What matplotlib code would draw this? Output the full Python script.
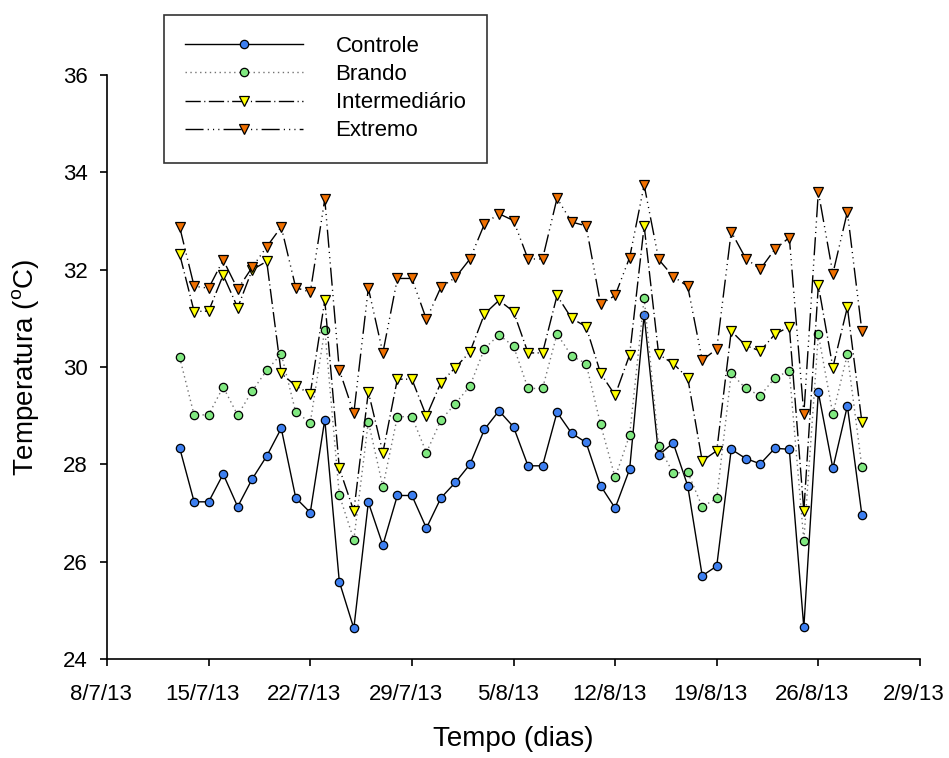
import datetime as dt

import matplotlib
matplotlib.use("Agg")
import matplotlib.pyplot as plt
import matplotlib.dates as mdates
from matplotlib.ticker import FuncFormatter, MultipleLocator
from matplotlib.transforms import ScaledTranslation
import pandas as pd

plt.rcParams["font.family"] = ["Liberation Sans", "DejaVu Sans"]
plt.rcParams["mathtext.fontset"] = "custom"
plt.rcParams["mathtext.rm"] = "Liberation Sans"

# daily readings, 13/7/13 onwards
controle = [28.34, 27.23, 27.23, 27.80, 27.13, 27.70, 28.17, 28.74, 27.31, 27.01,
            28.92, 25.59, 24.63, 27.22, 26.34, 27.36, 27.36, 26.69, 27.31, 27.63,
            28.00, 28.72, 29.10, 28.77, 27.97, 27.97, 29.07, 28.64, 28.45, 27.56,
            27.10, 27.90, 31.07, 28.19, 28.44, 27.56, 25.71, 25.91, 28.31, 28.12,
            28.01, 28.33, 28.31, 24.65, 29.48, 27.92, 29.20, 26.96]
brando = [30.20, 29.01, 29.02, 29.59, 29.01, 29.51, 29.93, 30.27, 29.07, 28.86,
          30.77, 27.37, 26.45, 28.88, 27.54, 28.98, 28.98, 28.24, 28.91, 29.25,
          29.61, 30.38, 30.66, 30.43, 29.56, 29.56, 30.68, 30.23, 30.07, 28.82,
          27.73, 28.60, 31.42, 28.38, 27.82, 27.84, 27.13, 27.30, 29.87, 29.56,
          29.41, 29.78, 29.92, 26.43, 30.67, 29.03, 30.26, 27.94]
intermediario = [32.32, 31.14, 31.15, 31.89, 31.22, 32.00, 32.17, 29.87, 29.61, 29.45,
                 31.37, 27.92, 27.04, 29.49, 28.24, 29.75, 29.75, 28.99, 29.68, 29.99,
                 30.31, 31.09, 31.37, 31.14, 30.29, 30.29, 31.47, 31.00, 30.83, 29.87,
                 29.42, 30.25, 32.90, 30.26, 30.07, 29.78, 28.07, 28.28, 30.74, 30.44,
                 30.33, 30.67, 30.83, 27.04, 31.68, 29.99, 31.23, 28.87]
extremo = [32.88, 31.66, 31.62, 32.20, 31.60, 32.05, 32.47, 32.88, 31.63, 31.54,
           33.45, 29.94, 29.05, 31.62, 30.29, 31.82, 31.82, 30.98, 31.64, 31.84,
           32.22, 32.94, 33.15, 33.01, 32.22, 32.22, 33.47, 32.98, 32.90, 31.29,
           31.47, 32.25, 33.74, 32.21, 31.86, 31.66, 30.14, 30.37, 32.78, 32.23,
           32.01, 32.42, 32.66, 29.03, 33.60, 31.92, 33.19, 30.74]

dias = pd.date_range("2013-07-13", periods=len(controle), freq="D")

fig = plt.figure(figsize=(9.49, 7.58), dpi=100)
ax = fig.add_axes([0.1128, 0.1306, 0.8566, 0.7704])

series = [
    ("Controle", controle, "-", "o", "#3d7ff0", "black"),
    ("Brando", brando, (0, (1, 2.5)), "o", "#80e880", "0.45"),
    ("Intermediário", intermediario, (0, (11, 2.5, 0.8, 2.5)), "v", "#ffff00", "black"),
    ("Extremo", extremo, (0, (13, 3, 0.8, 3, 0.8, 3, 0.8, 3)), "v", "#f07000", "black"),
]
for label, vals, ls, mk, fc, lc in series:
    ax.plot(dias, vals, linestyle=ls, color=lc, lw=1.0,
            marker=mk, markersize=6 if mk == "o" else 7,
            markerfacecolor=fc, markeredgecolor="black", markeredgewidth=0.9,
            label=label)

ax.set_xlim(dt.date(2013, 7, 8), dt.date(2013, 9, 2))
ax.set_ylim(24, 36)
ax.set_xticks([dt.date(2013, 7, 8) + dt.timedelta(days=7 * i) for i in range(9)])
ax.xaxis.set_major_formatter(FuncFormatter(
    lambda v, _: "{0.day}/{0.month}/{0:%y}".format(mdates.num2date(v))))
ax.yaxis.set_major_locator(MultipleLocator(2))

for side in ("top", "right"):
    ax.spines[side].set_visible(False)
for side in ("left", "bottom"):
    ax.spines[side].set_linewidth(1.2)
ax.tick_params(direction="out", length=5.3, width=1.2, labelsize=16)
ax.tick_params(axis="x", pad=13)
ax.tick_params(axis="y", pad=8.5)

# date labels sit a little left of their ticks
shift = ScaledTranslation(-6 / 100, 0, fig.dpi_scale_trans)
for lab in ax.get_xticklabels():
    lab.set_transform(lab.get_transform() + shift)

ax.set_xlabel("Tempo (dias)", fontsize=20, labelpad=15)
ax.set_ylabel(r"Temperatura ($^{\mathrm{o}}$C)", fontsize=20, labelpad=15)

leg = ax.legend(loc="upper left", bbox_to_anchor=(164 / 949, 1 - 15 / 758),
                bbox_transform=fig.transFigure, fontsize=16, frameon=True,
                fancybox=False, edgecolor="black", handlelength=5.3,
                handletextpad=1.47, labelspacing=0.32, borderpad=0.95,
                borderaxespad=0, numpoints=1)
leg.get_frame().set_linewidth(1.2)

fig.savefig("out.png", dpi=100)
